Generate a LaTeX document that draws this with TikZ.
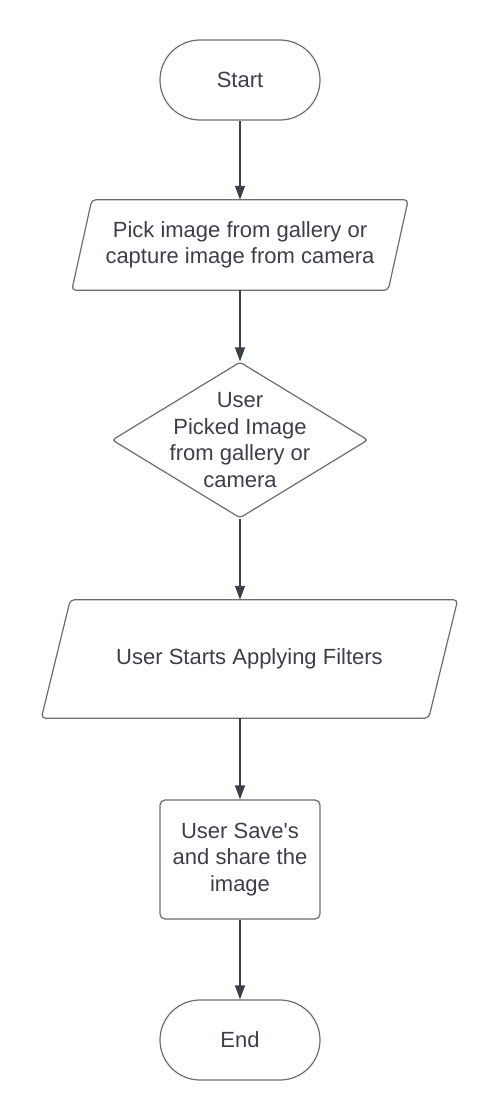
\documentclass[tikz,border=0pt]{standalone}
\usepackage{fontspec}
\setmainfont{Liberation Sans}
\usepackage{tikz}
\usetikzlibrary{positioning,arrows.meta,shapes.geometric}

\definecolor{inkgray}{HTML}{3A3F4A}
\definecolor{edgegray}{HTML}{686C73}

\tikzset{
  every node/.style={font=\fontsize{22}{26.5}\selectfont, text=inkgray},
  outline/.style={draw=edgegray, line width=1.2pt},
  terminal/.style={outline, rectangle, rounded corners=40pt,
    minimum width=160pt, minimum height=80pt},
  io/.style={rectangle, align=center, inner sep=0pt},
  ioline/.style={outline, rounded corners=4pt},
  decision/.style={outline, diamond, rounded corners=3pt,
    minimum width=256pt, minimum height=156pt, inner sep=0pt},
  process/.style={outline, rectangle, rounded corners=5pt,
    minimum width=160pt, minimum height=119pt, align=center},
  flow/.style={-{Triangle[length=14pt,width=10pt]}, draw=inkgray, line width=1.2pt}
}

\begin{document}
\begin{tikzpicture}[x=1pt,y=-1pt]
  \useasboundingbox (0,0) rectangle (500,1120);

  \node[terminal] (start) at (240,80) {Start};

  % input / output boxes: text node + slanted outline
  \node[io, minimum width=316pt, minimum height=90pt] (pick) at (240,245)
        {Pick image from gallery or\\capture image from camera};
  \draw[ioline] ([xshift=10pt]pick.north west) -- ([xshift=10pt]pick.north east)
        -- ([xshift=-10pt]pick.south east) -- ([xshift=-10pt]pick.south west) -- cycle;

  \node[decision] (check) at (240,440) {};
  \node[align=center] (checktext) at (check.center)
        {User\\Picked Image\\from gallery or\\camera};

  \node[io, minimum width=387pt, minimum height=118pt] (filters) at (249.5,659)
        {User Starts Applying Filters};
  \draw[ioline] ([xshift=14.5pt]filters.north west) -- ([xshift=14.5pt]filters.north east)
        -- ([xshift=-14.5pt]filters.south east) -- ([xshift=-14.5pt]filters.south west) -- cycle;

  \node[process] (save) at (240,859.5) {User Save\textquotesingle s\\and share the\\image};

  \node[terminal] (end) at (240,1040) {End};

  \draw[flow] (start) -- (pick.north -| start);
  \draw[flow] (pick.south -| start) -- (check.north);
  \draw[flow] (check.south) -- (filters.north -| check);
  \draw[flow] (filters.south -| save) -- (save.north);
  \draw[flow] (save) -- (end);
\end{tikzpicture}
\end{document}
